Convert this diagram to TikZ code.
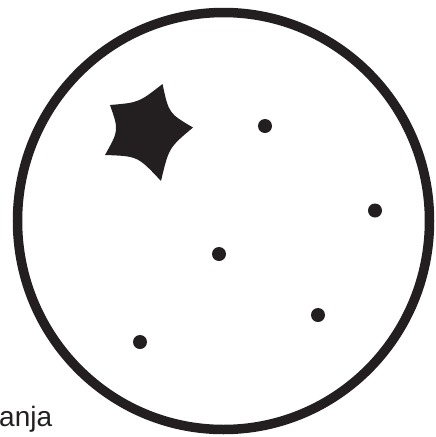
\documentclass[tikz,border=0pt]{standalone}
\usepackage{fontspec}
\setmainfont{Liberation Sans}
\usetikzlibrary{calc}
\definecolor{ink}{HTML}{231F20}
\tikzset{
  rim/.style={draw=ink, line width=9.5pt},
  speck/.style={circle, fill=ink, inner sep=0pt, minimum size=14pt},
  label/.style={inner sep=0pt, anchor=base west, font=\fontsize{28}{30}\selectfont, text=ink}
}
\begin{document}
\begin{tikzpicture}[x=1pt,y=-1pt]
\useasboundingbox (0,0) rectangle (436,437);
\draw[rim] (223.5,221) ellipse [x radius=206, y radius=208.5];
% star
\coordinate (M) at (148,131);
\coordinate (A) at (110,105);
\coordinate (B) at (162.5,84);
\coordinate (C) at (193,127.5);
\coordinate (D) at (161,181);
\coordinate (E) at (105,155);
\fill[ink] (A) .. controls ($(A)!0.5!(B)!0.22!(M)$) .. (B)
  .. controls ($(B)!0.5!(C)!0.3!(M)$) .. (C)
  .. controls ($(C)!0.5!(D)!0.28!(M)$) .. (D)
  .. controls ($(D)!0.5!(E)!0.32!(M)$) .. (E)
  .. controls ($(E)!0.5!(A)!0.28!(M)$) .. (A) -- cycle;
% dots
\node[speck] (d1) at (265,126) {};
\node[speck] (d2) at (375,210.5) {};
\node[speck] (d3) at (219,254) {};
\node[speck] (d4) at (318,315) {};
\node[speck] (d5) at (140,342) {};
\node[label] (t) at (-1,426) {anja};
\end{tikzpicture}
\end{document}
